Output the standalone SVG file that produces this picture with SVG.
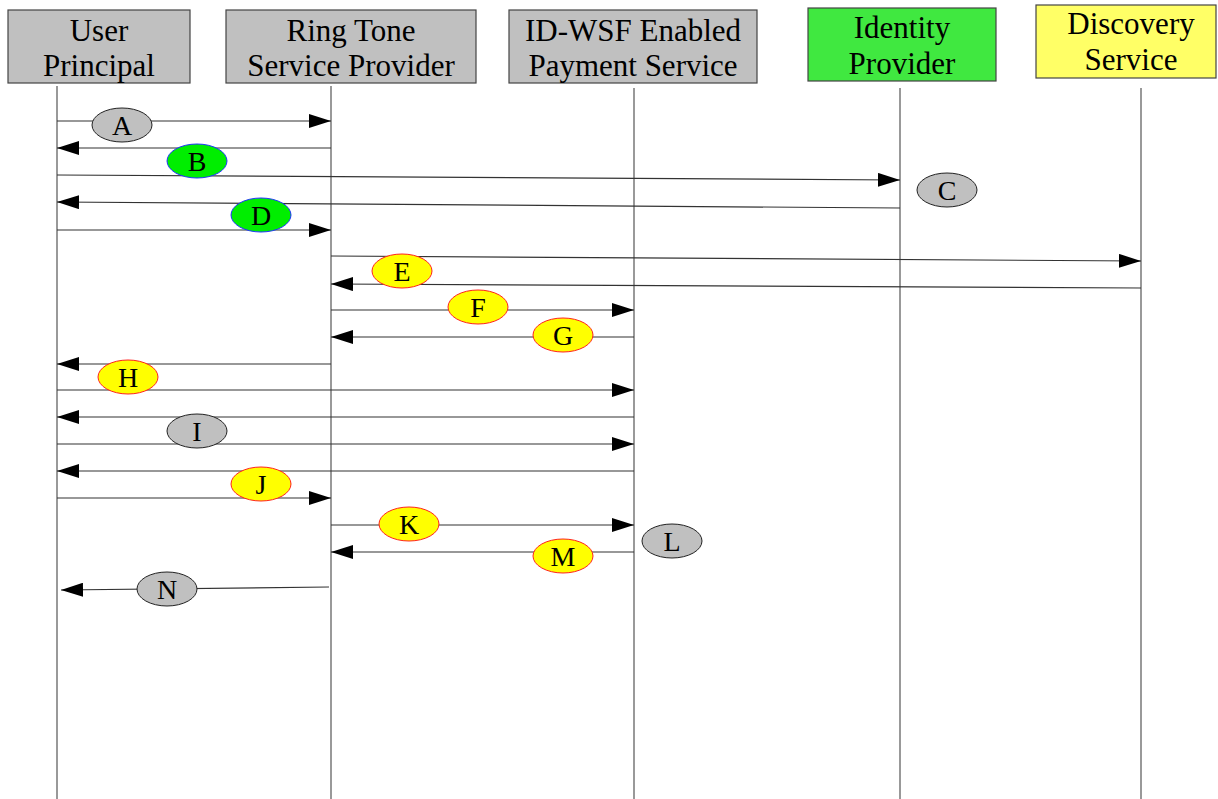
<svg xmlns="http://www.w3.org/2000/svg" width="1218" height="799" viewBox="0 0 1218 799">
<defs>
<marker id="ah" markerUnits="userSpaceOnUse" markerWidth="22" markerHeight="14" refX="22" refY="7" orient="auto">
<path d="M0,0 L22,7 L0,14 Z" fill="#000"/>
</marker>
<style>
.box{stroke:#444;stroke-width:1.2}
.gray{fill:#c0c0c0}
.green{fill:#40e840}
.pale{fill:#ffff66}
.t{font-family:"Liberation Serif","Times New Roman",serif;font-size:31px;fill:#000;text-anchor:middle}
.life{stroke:#555;stroke-width:1.2;fill:none}
.msg{stroke:#333;stroke-width:1.2;fill:none;marker-end:url(#ah)}
.eg{fill:#c0c0c0;stroke:#222;stroke-width:1}
.egr{fill:#00ee00;stroke:#2233ff;stroke-width:1}
.ey{fill:#ffff00;stroke:#ff2020;stroke-width:1}
.l{font-family:"Liberation Serif","Times New Roman",serif;font-size:28px;fill:#000;text-anchor:middle}
</style>
</defs>
<rect width="1218" height="799" fill="#fff"/>
<g id="lifelines">
<line class="life" x1="57" y1="86" x2="57" y2="799"/>
<line class="life" x1="331" y1="86" x2="331" y2="799"/>
<line class="life" x1="634" y1="88" x2="634" y2="799"/>
<line class="life" x1="900" y1="88" x2="900" y2="799"/>
<line class="life" x1="1141" y1="88" x2="1141" y2="799"/>
</g>
<g id="user-principal">
<rect class="box gray" x="8" y="10" width="182" height="73"/>
<text class="t" x="99" y="41">User</text>
<text class="t" x="99" y="76">Principal</text>
</g>
<g id="ring-tone-sp">
<rect class="box gray" x="226" y="10" width="250" height="73"/>
<text class="t" x="351" y="41">Ring Tone</text>
<text class="t" x="351" y="76">Service Provider</text>
</g>
<g id="payment-service">
<rect class="box gray" x="509" y="10" width="248" height="73"/>
<text class="t" x="633" y="41">ID-WSF Enabled</text>
<text class="t" x="633" y="76">Payment Service</text>
</g>
<g id="identity-provider">
<rect class="box green" x="808" y="8" width="188" height="73"/>
<text class="t" x="902" y="38">Identity</text>
<text class="t" x="902" y="74">Provider</text>
</g>
<g id="discovery-service">
<rect class="box pale" x="1036" y="5" width="180" height="73"/>
<text class="t" x="1131" y="34">Discovery</text>
<text class="t" x="1131" y="70">Service</text>
</g>
<g id="connectors">
<line class="msg" x1="57" y1="121" x2="331" y2="121"/>
<line class="msg" x1="331" y1="148" x2="57" y2="148"/>
<line class="msg" x1="57" y1="175" x2="900" y2="180"/>
<line class="msg" x1="900" y1="208" x2="57" y2="202"/>
<line class="msg" x1="57" y1="230" x2="331" y2="230"/>
<line class="msg" x1="331" y1="256" x2="1141" y2="261"/>
<line class="msg" x1="1141" y1="288" x2="331" y2="284"/>
<line class="msg" x1="331" y1="310" x2="634" y2="310"/>
<line class="msg" x1="634" y1="337" x2="331" y2="337"/>
<line class="msg" x1="331" y1="364" x2="57" y2="364"/>
<line class="msg" x1="57" y1="390" x2="634" y2="390"/>
<line class="msg" x1="634" y1="417" x2="57" y2="417"/>
<line class="msg" x1="57" y1="444" x2="634" y2="444"/>
<line class="msg" x1="634" y1="471" x2="57" y2="471"/>
<line class="msg" x1="57" y1="498" x2="331" y2="498"/>
<line class="msg" x1="331" y1="525" x2="634" y2="525"/>
<line class="msg" x1="634" y1="552" x2="331" y2="552"/>
<line class="msg" x1="329" y1="587" x2="61" y2="590"/>
</g>
<g id="label-A"><ellipse class="eg" cx="122" cy="125" rx="30" ry="17"/><text class="l" x="122" y="135">A</text></g>
<g id="label-B"><ellipse class="egr" cx="197" cy="161" rx="30" ry="17"/><text class="l" x="197" y="171">B</text></g>
<g id="label-C"><ellipse class="eg" cx="947" cy="190" rx="30" ry="17"/><text class="l" x="947" y="200">C</text></g>
<g id="label-D"><ellipse class="egr" cx="261" cy="215" rx="30" ry="17"/><text class="l" x="261" y="225">D</text></g>
<g id="label-E"><ellipse class="ey" cx="402" cy="271" rx="30" ry="17"/><text class="l" x="402" y="281">E</text></g>
<g id="label-F"><ellipse class="ey" cx="478" cy="307" rx="30" ry="17"/><text class="l" x="478" y="317">F</text></g>
<g id="label-G"><ellipse class="ey" cx="563" cy="335" rx="30" ry="17"/><text class="l" x="563" y="345">G</text></g>
<g id="label-H"><ellipse class="ey" cx="128" cy="377" rx="30" ry="17"/><text class="l" x="128" y="387">H</text></g>
<g id="label-I"><ellipse class="eg" cx="197" cy="431" rx="30" ry="17"/><text class="l" x="197" y="441">I</text></g>
<g id="label-J"><ellipse class="ey" cx="261" cy="484" rx="30" ry="17"/><text class="l" x="261" y="494">J</text></g>
<g id="label-K"><ellipse class="ey" cx="409" cy="524" rx="30" ry="17"/><text class="l" x="409" y="534">K</text></g>
<g id="label-L"><ellipse class="eg" cx="672" cy="541" rx="30" ry="17"/><text class="l" x="672" y="551">L</text></g>
<g id="label-M"><ellipse class="ey" cx="563" cy="556" rx="30" ry="17"/><text class="l" x="563" y="566">M</text></g>
<g id="label-N"><ellipse class="eg" cx="167" cy="589" rx="30" ry="17"/><text class="l" x="167" y="599">N</text></g>
</svg>
